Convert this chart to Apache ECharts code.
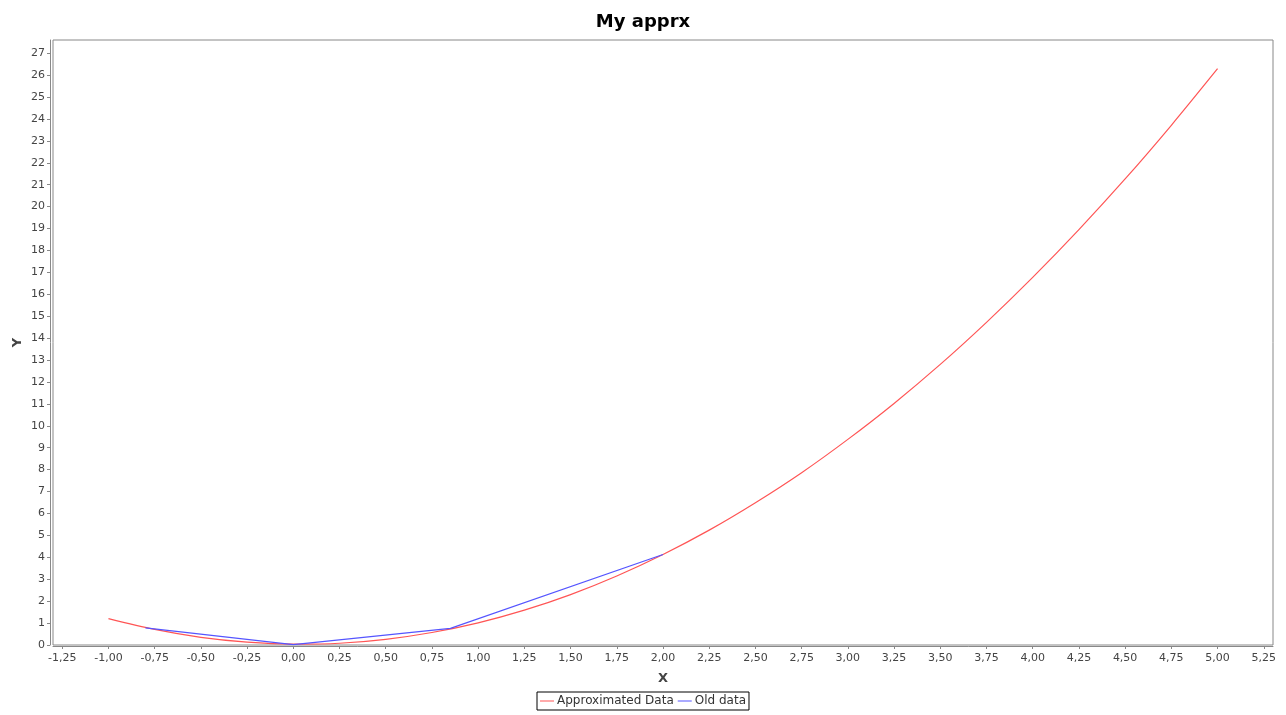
<!DOCTYPE html>
<html>
<head>
<meta charset="utf-8">
<script src="https://cdn.jsdelivr.net/npm/echarts@6/dist/echarts.min.js"></script>
<style>html,body{margin:0;padding:0;background:#fff;}#c{width:1286px;height:715px;}</style>
</head>
<body>
<div id="c"></div>
<script>
// Approximated Data (red curve)
var approxX = [-1.00,-0.75,-0.50,-0.25,0.00,0.25,0.50,0.75,1.00,1.25,1.50,1.75,2.00,2.25,2.50,2.75,3.00,3.25,3.50,3.75,4.00,4.25,4.50,4.75,5.00];
var approxY = [1.20,0.71,0.35,0.13,0.04,0.08,0.26,0.57,1.01,1.59,2.30,3.15,4.13,5.24,6.49,7.86,9.38,11.02,12.80,14.72,16.77,18.95,21.26,23.71,26.29];
// Old data (blue polyline)
var oldX = [-0.80, 0.00, 0.85, 2.00];
var oldY = [0.78, 0.02, 0.76, 4.13];
// Tick values
var xTicks = [-1.25,-1.00,-0.75,-0.50,-0.25,0.00,0.25,0.50,0.75,1.00,1.25,1.50,1.75,2.00,2.25,2.50,2.75,3.00,3.25,3.50,3.75,4.00,4.25,4.50,4.75,5.00,5.25];
var yTicks = [0,1,2,3,4,5,6,7,8,9,10,11,12,13,14,15,16,17,18,19,20,21,22,23,24,25,26,27];

function pairs(xs, ys){ return xs.map(function(x,i){ return [x, ys[i]]; }); }

var font = 'DejaVu Sans';
var chart = echarts.init(document.getElementById('c'));
chart.setOption({
  animation: false,
  backgroundColor: '#ffffff',
  title: {
    text: 'My apprx', left: 'center', top: 8,
    textStyle: { fontFamily: font, fontSize: 18, fontWeight: 'bold', color: '#000' }
  },
  legend: {
    data: ['Approximated Data', 'Old data'],
    left: 'center', top: 692,
    borderColor: '#000', borderWidth: 1, borderRadius: 0,
    padding: [3, 3], itemGap: 4,
    itemWidth: 14, itemHeight: 1, icon: 'rect',
    textStyle: { fontFamily: font, fontSize: 12, color: '#333', padding: [0, 0, 0, -2] }
  },
  grid: {
    left: 53, top: 40, width: 1220, height: 605,
    containLabel: false, outerBoundsMode: 'none',
    show: true, borderColor: '#888', borderWidth: 1, backgroundColor: '#fff'
  },
  xAxis: {
    type: 'value', min: -1.3, max: 5.3, offset: 1,
    name: 'X', nameLocation: 'middle', nameGap: 26, nameMoveOverlap: false,
    nameTextStyle: { fontFamily: font, fontSize: 13, fontWeight: 'bold', color: '#444' },
    axisLine: { show: true, onZero: false, lineStyle: { color: '#888' } },
    axisTick: { show: true, length: 3, customValues: xTicks, lineStyle: { color: '#888' } },
    axisLabel: {
      customValues: xTicks, fontFamily: font, fontSize: 11, color: '#444', margin: 7,
      formatter: function(v){ return v.toFixed(2).replace('.', ','); }
    },
    splitLine: { show: false }
  },
  yAxis: {
    type: 'value', min: 0, max: 27.6, offset: 3,
    name: 'Y', nameLocation: 'middle', nameGap: 26, nameRotate: 90, nameMoveOverlap: false,
    nameTextStyle: { fontFamily: font, fontSize: 13, fontWeight: 'bold', color: '#444' },
    axisLine: { show: true, onZero: false, lineStyle: { color: '#888' } },
    axisTick: { show: true, length: 3, customValues: yTicks, lineStyle: { color: '#888' } },
    axisLabel: { customValues: yTicks, fontFamily: font, fontSize: 11, color: '#444', margin: 5 },
    splitLine: { show: false }
  },
  series: [
    {
      name: 'Approximated Data', type: 'line', data: pairs(approxX, approxY),
      smooth: 0.3, showSymbol: false, color: '#ff5555',
      lineStyle: { width: 1.2, color: '#ff5555' }
    },
    {
      name: 'Old data', type: 'line', data: pairs(oldX, oldY),
      showSymbol: false, color: '#5555ff',
      lineStyle: { width: 1.2, color: '#5555ff' }
    }
  ]
});
</script>
</body>
</html>
